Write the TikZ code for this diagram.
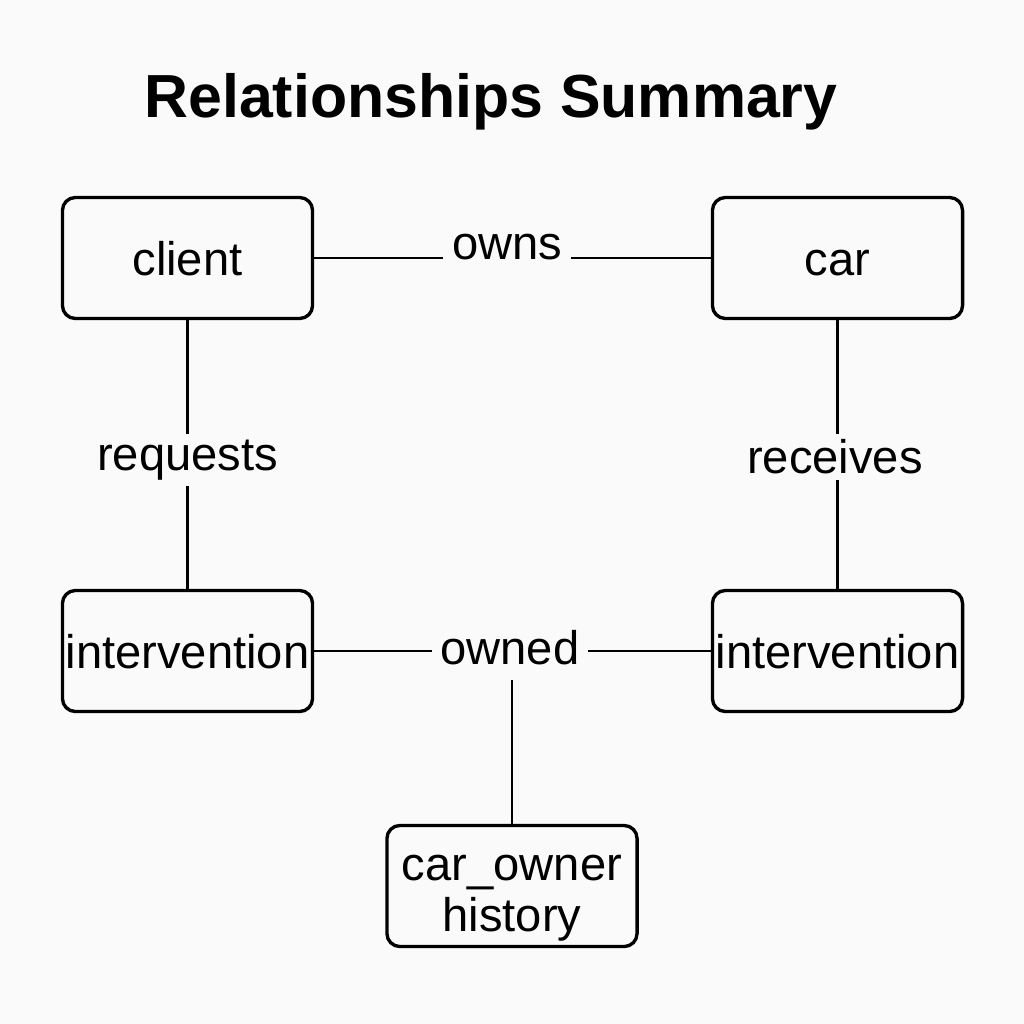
\documentclass[tikz,border=0pt]{standalone}
\usepackage{fontspec}
\setmainfont{Liberation Sans}
\definecolor{bg}{RGB}{250,250,250}
\begin{document}
\begin{tikzpicture}[x=0.01cm,y=-0.01cm,
  entity/.style={draw=black,line width=0.95pt,rounded corners=0.13cm,minimum width=2.5cm,minimum height=1.21cm,inner sep=0pt,align=center,font=\fontsize{13.4}{14.5}\selectfont},
  single/.style={text height=9.8pt,text depth=0pt},
  rel/.style={inner xsep=2.3pt,inner ysep=1.5pt,font=\fontsize{13.4}{16}\selectfont},
  link/.style={line width=0.75pt}]
\fill[bg] (0,0) rectangle (1024,1024);
\useasboundingbox (0,0) rectangle (1024,1024);
\node[font=\fontsize{17.3}{20}\selectfont\bfseries] (title) at (491,102) {Relationships Summary};
\node[entity,single] (client) at (187.5,258) {client};
\node[entity,single] (car) at (837.5,258) {car};
\node[entity,single] (intL) at (187.5,651) {intervention};
\node[entity,single] (intR) at (837.5,651) {intervention};
\node[entity] (hist) at (512,886) {\rule{0pt}{14pt}car\_owner\\history};
\node[rel] (owns) at (507,247) {owns};
\node[rel] (requests) at (187.5,460) {requests};
\node[rel] (receives) at (835,457) {receives};
\node[rel,inner ysep=4pt] (owned) at (510,648) {owned};
\draw[link] (client.east) -- (owns.west |- client.east);
\draw[link] (owns.east |- car.west) -- (car.west);
\draw[link] (client.south) -- (requests.north);
\draw[link] (requests.south) -- (intL.north);
\draw[link] (car.south) -- (receives.north -| car.south);
\draw[link] (receives.south -| car.south) -- (intR.north);
\draw[link] (intL.east) -- (owned.west |- intL.east);
\draw[link] (owned.east |- intR.west) -- (intR.west);
\draw[link] (owned.south -| hist.north) -- (hist.north);
\end{tikzpicture}
\end{document}
